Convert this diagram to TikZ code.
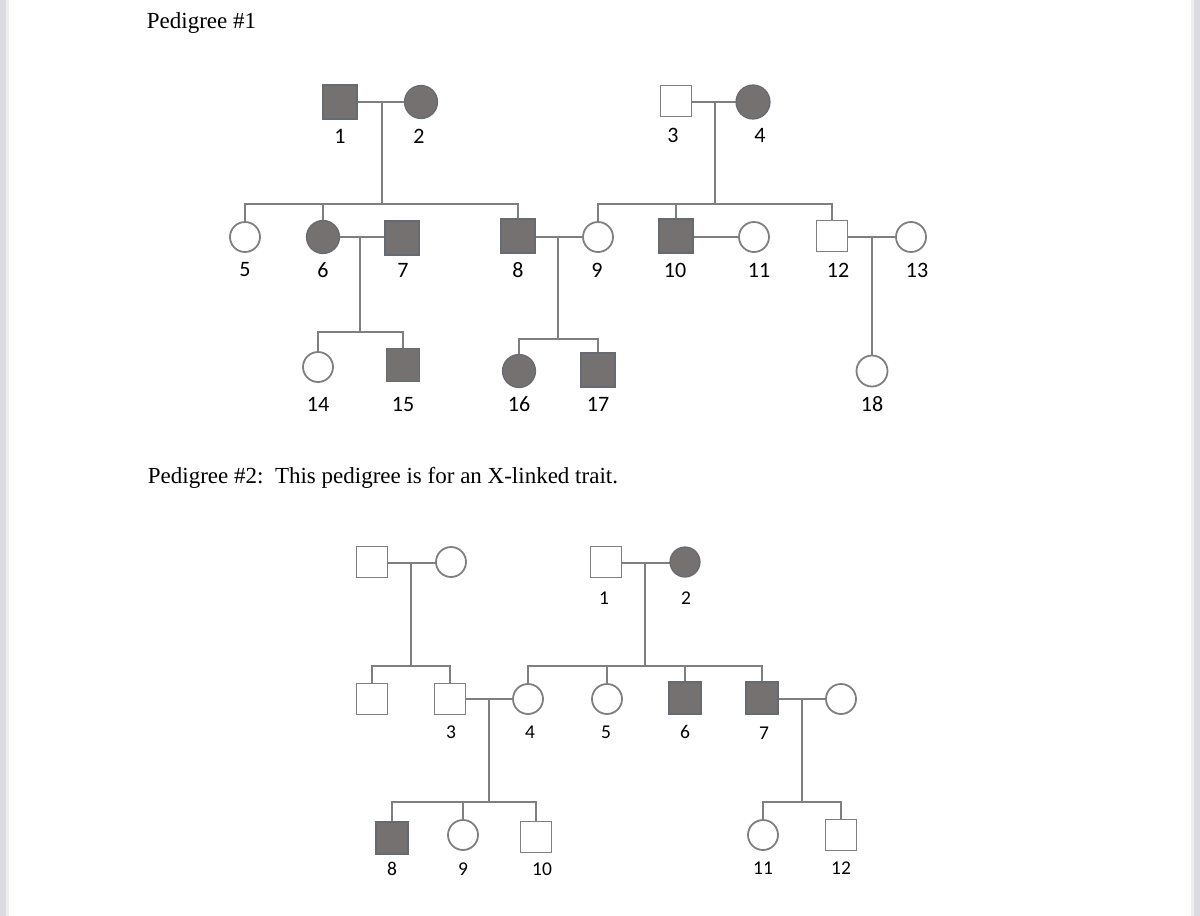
\documentclass[tikz,border=0pt]{standalone}
\usepackage{fontspec}
\setmainfont{Liberation Serif}
\newfontfamily\lblfont{Carlito}
\definecolor{ln}{HTML}{7F7F7F}
\definecolor{aff}{HTML}{767171}
\definecolor{affd}{HTML}{666A72}
\definecolor{edge1}{HTML}{DCDBE2}
\definecolor{edge2}{HTML}{EEEEF2}
\begin{document}
\begin{tikzpicture}[x=1pt,y=-1pt,
  line width=1.8pt,
  conn/.style={draw=ln,line width=1.8pt},
  male/.style={rectangle,draw=ln,fill=white,line width=1.8pt,inner sep=0pt,minimum size=#1},
  male/.default=32pt,
  fem/.style={circle,draw=ln,fill=white,line width=1.8pt,inner sep=0pt,minimum size=#1},
  fem/.default=30pt,
  afm/.style={rectangle,draw=affd,fill=aff,line width=1.2pt,inner sep=0pt,minimum size=#1},
  afm/.default=34pt,
  aff/.style={circle,draw=affd,fill=aff,line width=1.2pt,inner sep=0pt,minimum size=#1},
  aff/.default=33pt,
  lblA/.style={inner sep=0pt,font=\lblfont\fontsize{22}{22}\selectfont},
  lblB/.style={inner sep=0pt,font=\lblfont\fontsize{19.5}{19.5}\selectfont},
  title/.style={inner sep=0pt,anchor=base west,font=\fontsize{23}{23}\selectfont}
]
\useasboundingbox (0,0) rectangle (1200,916);
\fill[white] (0,0) rectangle (1200,916);
\fill[edge1] (0,0) rectangle (6,916);
\fill[edge2] (6,0) rectangle (9,916);
\fill[edge1] (1194,0) rectangle (1200,916);
\fill[edge2] (1191,0) rectangle (1194,916);

\node[title] (t1) at (146,28) {Pedigree \#1};
\node[title] (t2) at (147,483) {Pedigree \#2:\hspace{0.5em}This pedigree is for an X-linked trait.};

% ---------------- Pedigree 1 ----------------
\coordinate (m12) at (382,102);
\coordinate (s12) at (382,204);
\coordinate (m34) at (715,102);
\coordinate (s34) at (715,204);
\coordinate (m67) at (360,237);
\coordinate (s67) at (360,332);
\coordinate (m89) at (558,237);
\coordinate (s89) at (558,339);
\coordinate (mAB) at (872,237);

\draw[conn] (340,102) -- (421,102);
\draw[conn] (676,102) -- (753,102);
\draw[conn] (m12) -- (s12);
\draw[conn] (m34) -- (s34);
\draw[conn] (323,237) -- (402,237);
\draw[conn] (518,237) -- (598,237);
\draw[conn] (676,237) -- (754,237);
\draw[conn] (832,237) -- (911,237);
\draw[conn] (m67) -- (s67);
\draw[conn] (m89) -- (s89);

\node[afm] (p1) at (340,102) {};
\node[aff] (p2) at (421,102) {};
\node[male=31pt] (p3) at (676,101) {};
\node[aff=34pt] (p4) at (753,102) {};
\node[fem] (c5) at (245,237) {};
\node[aff] (c6) at (323,237) {};
\node[afm] (c7) at (402,238) {};
\node[afm] (c8) at (518,236) {};
\node[fem] (c9) at (598,237) {};
\node[afm] (c10) at (676,236) {};
\node[fem] (c11) at (754,237) {};
\node[male=31pt] (c12) at (832,236) {};
\node[fem] (c13) at (911,237) {};
\node[fem] (c14) at (318,367) {};
\node[afm=33pt] (c15) at (403,365) {};
\node[aff] (c16) at (519,371) {};
\node[afm] (c17) at (598,370) {};
\node[fem=31pt] (c18) at (872,371) {};

\draw[conn] (c5.north) -- (c5.north |- s12) -- (c8.north |- s12) -- (c8.north);
\draw[conn] (c6.north) -- (c6.north |- s12);
\draw[conn] (c9.north) -- (c9.north |- s34) -- (c12.north |- s34) -- (c12.north);
\draw[conn] (c10.north) -- (c10.north |- s34);
\draw[conn] (c14.north) -- (c14.north |- s67) -- (c15.north |- s67) -- (c15.north);
\draw[conn] (c16.north) -- (c16.north |- s89) -- (c17.north |- s89) -- (c17.north);
\draw[conn] (mAB) -- (c18.north);

\node[lblA] (l1) at (340,136) {1};
\node[lblA] (l2) at (419,136) {2};
\node[lblA] (l3) at (673,135) {3};
\node[lblA] (l4) at (760,135) {4};
\node[lblA] (l5) at (245,270) {5};
\node[lblA] (l6) at (323,270) {6};
\node[lblA] (l7) at (403,270) {7};
\node[lblA] (l8) at (518,270) {8};
\node[lblA] (l9) at (597,270) {9};
\node[lblA] (l10) at (675,270) {10};
\node[lblA] (l11) at (759,270) {11};
\node[lblA] (l12) at (838,270) {12};
\node[lblA] (l13) at (917,270) {13};
\node[lblA] (l14) at (318,404) {14};
\node[lblA] (l15) at (403,404) {15};
\node[lblA] (l16) at (519,404) {16};
\node[lblA] (l17) at (598,404) {17};
\node[lblA] (l18) at (872,404) {18};

% ---------------- Pedigree 2 ----------------
\coordinate (n12) at (411,563);
\coordinate (u12) at (411,666);
\coordinate (n34) at (645,563);
\coordinate (u34) at (645,666);
\coordinate (n56) at (489,699);
\coordinate (u56) at (489,802);
\coordinate (n78) at (802,699);
\coordinate (u78) at (802,802);

\draw[conn] (372,563) -- (451,563);
\draw[conn] (606,563) -- (685,563);
\draw[conn] (n12) -- (u12);
\draw[conn] (n34) -- (u34);
\draw[conn] (450,699) -- (528,699);
\draw[conn] (762,699) -- (841,699);
\draw[conn] (n56) -- (u56);
\draw[conn] (n78) -- (u78);

\node[male=31pt] (qa) at (372,562) {};
\node[fem] (qb) at (451,562) {};
\node[male=31pt] (q1) at (606,562) {};
\node[aff=30pt] (q2) at (685,562) {};
\node[male=31pt] (qc) at (372,699) {};
\node[male=31pt] (q3) at (450,699) {};
\node[fem] (q4) at (528,699) {};
\node[fem] (q5) at (607,699) {};
\node[afm=32pt] (q6) at (685,698) {};
\node[afm=32pt] (q7) at (762,698) {};
\node[fem] (q7s) at (841,699) {};
\node[afm=32pt] (q8) at (392,838) {};
\node[fem] (q9) at (463,835) {};
\node[male=31pt] (q10) at (536,837) {};
\node[fem] (q11) at (763,835) {};
\node[male=31pt] (q12) at (841,835) {};

\draw[conn] (qc.north) -- (qc.north |- u12) -- (q3.north |- u12) -- (q3.north);
\draw[conn] (q4.north) -- (q4.north |- u34) -- (q7.north |- u34) -- (q7.north);
\draw[conn] (q5.north) -- (q5.north |- u34);
\draw[conn] (q6.north) -- (q6.north |- u34);
\draw[conn] (q8.north) -- (q8.north |- u56) -- (q10.north |- u56) -- (q10.north);
\draw[conn] (q9.north) -- (q9.north |- u56);
\draw[conn] (q11.north) -- (q11.north |- u78) -- (q12.north |- u78) -- (q12.north);

\node[lblB] (k1) at (604,598) {1};
\node[lblB] (k2) at (686,598) {2};
\node[lblB] (k3) at (451,732) {3};
\node[lblB] (k4) at (530,732) {4};
\node[lblB] (k5) at (606,732) {5};
\node[lblB] (k6) at (685,732) {6};
\node[lblB] (k7) at (764,733) {7};
\node[lblB] (k8) at (392,869) {8};
\node[lblB] (k9) at (463,869) {9};
\node[lblB] (k10) at (542,869) {10};
\node[lblB] (k11) at (763,868) {11};
\node[lblB] (k12) at (841,868) {12};
\end{tikzpicture}
\end{document}
